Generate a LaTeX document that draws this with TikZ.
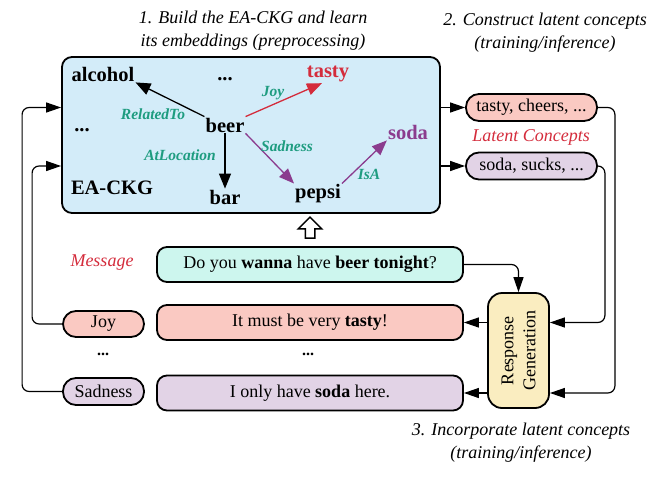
\documentclass[tikz,border=0pt]{standalone}
\usepackage{fontspec}
\setmainfont{Liberation Serif}
\usetikzlibrary{arrows.meta,shapes.arrows,calc}
\definecolor{ckgblue}{HTML}{D3ECF9}
\definecolor{pinkfill}{HTML}{FAC9C2}
\definecolor{lavfill}{HTML}{E2D3E6}
\definecolor{mintfill}{HTML}{CDF6EE}
\definecolor{yelfill}{HTML}{FAEDC0}
\definecolor{myred}{HTML}{D42C3C}
\definecolor{mypurple}{HTML}{8B3C8E}
\definecolor{myteal}{HTML}{1E9C80}
\begin{document}
\begin{tikzpicture}[x=1pt,y=-1pt,
  box/.style={draw, line width=1.8pt, rounded corners=10pt, minimum width=306pt, minimum height=35pt, font=\fontsize{18}{21}\selectfont},
  pill/.style={draw, line width=1.8pt, rounded corners=13pt, minimum height=27pt, font=\fontsize{18}{21}\selectfont},
  gnode/.style={font=\fontsize{20.5}{24}\selectfont\bfseries, inner sep=1pt},
  elab/.style={font=\fontsize{15.5}{18}\selectfont\bfseries\itshape, text=myteal},
  garr/.style={line width=1.3pt, -{Triangle[length=15pt,width=12pt]}},
  arr/.style={line width=1.2pt, rounded corners=7pt, -{Triangle[length=15pt,width=10pt]}},
  title/.style={font=\fontsize{18}{23}\selectfont\itshape, align=center},
  hollow/.style={single arrow, draw, line width=1.5pt, fill=white, minimum height=21pt, minimum width=22pt, inner sep=4pt, single arrow head extend=7pt}
]
\useasboundingbox (0,0) rectangle (652,492);

% titles
\node[title] (t1) at (253,31) {1. Build the EA-CKG and learn\\its embeddings (preprocessing)};
\node[title] (t2) at (545,33) {2. Construct latent concepts\\(training/inference)};
\node[title] (t3) at (521,443) {3. Incorporate latent concepts\\(training/inference)};

% EA-CKG box
\node[draw, line width=1.8pt, rounded corners=10pt, fill=ckgblue, minimum width=378pt, minimum height=156pt] (ckg) at (251,135) {};

% graph nodes
\node[gnode] (alcohol) at (103,74) {alcohol};
\node[gnode] (dots1) at (225,79) {...};
\node[gnode, text=myred] (tasty) at (328,74) {tasty};
\node[gnode] (beer) at (225,125) {beer};
\node[gnode] (dots2) at (82,130) {...};
\node[gnode, text=mypurple] (soda) at (408,132) {soda};
\node[gnode] (eackg) at (112,188) {EA-CKG};
\node[gnode] (bar) at (225,197) {bar};
\node[gnode] (pepsi) at (318,194) {pepsi};

% graph edges
\draw[garr] (beer.north west) -- (alcohol.south east);
\draw[garr, myred] (beer.north east) -- ([xshift=-6pt]tasty.south);
\draw[garr] (beer.south) -- (bar.north);
\draw[garr, mypurple] (beer.south east) -- (pepsi.north west);
\draw[garr, mypurple] (pepsi.north east) -- (soda.south west);

% edge labels
\node[elab] (lrel) at (153,114) {RelatedTo};
\node[elab] (ljoy) at (273,93) {Joy};
\node[elab] (lsad) at (287,146) {Sadness};
\node[elab] (lat) at (180,155) {AtLocation};
\node[elab] (lisa) at (369,174) {IsA};

% latent concepts
\node[pill, fill=pinkfill, minimum width=131pt] (lc1) at (531.5,107.5) {tasty, cheers, ...};
\node[font=\fontsize{18}{21}\selectfont\itshape, text=myred] (lclab) at (531,137) {Latent Concepts};
\node[pill, fill=lavfill, minimum width=131pt] (lc2) at (531.5,166) {soda, sucks, ...};

% message and responses
\node[font=\fontsize{18}{21}\selectfont\itshape, text=myred] (msglab) at (102,263) {Message};
\node[box, fill=mintfill] (msg) at (310,264.5) {Do you \textbf{wanna} have \textbf{beer tonight}?};
\node[box, fill=pinkfill] (r1) at (310,322.5) {It must be very \textbf{tasty}!};
\node[box, fill=lavfill] (r2) at (310,393) {I only have \textbf{soda} here.};
\node[pill, fill=pinkfill, minimum width=81pt, minimum height=26pt] (joy) at (103.5,324) {Joy};
\node[pill, fill=lavfill, minimum width=81pt] (sad) at (103.5,391.5) {Sadness};
\node[font=\fontsize{16}{19}\selectfont\bfseries] (dots3) at (103,354) {...};
\node[font=\fontsize{16}{19}\selectfont\bfseries] (dots4) at (308,354) {...};

% response generation
\node[draw, line width=1.8pt, rounded corners=14pt, fill=yelfill, minimum width=61pt, minimum height=115pt] (rg) at (518.5,350.5) {};
\node[rotate=90, align=center, font=\fontsize{18}{22}\selectfont] (rgtext) at (rg.center) {Response\\Generation};

% hollow arrow
\node[hollow, rotate=90] (up) at ($(msg.north)!0.5!(msg.north|-ckg.south)$) {};

% connectors
\draw[arr] (ckg.east |- lc1.west) -- (lc1.west);
\draw[arr] (ckg.east |- lc2.west) -- (lc2.west);
\draw[arr] (lc1.east) -- ++(17,0) |- (rg.east |- r2.east);
\draw[arr] (lc2.east) -- ++(7,0) |- (rg.east |- r1.east);
\draw[arr] (msg.east) -| (rg.north);
\draw[arr] (rg.west |- r1.east) -- (r1.east);
\draw[arr] (rg.west |- r2.east) -- (r2.east);
\draw[arr] (joy.west) -- ++(-30,0) |- (ckg.west |- lc2.west);
\draw[arr] (sad.west) -- ++(-40,0) |- (ckg.west |- lc1.west);
\end{tikzpicture}
\end{document}
